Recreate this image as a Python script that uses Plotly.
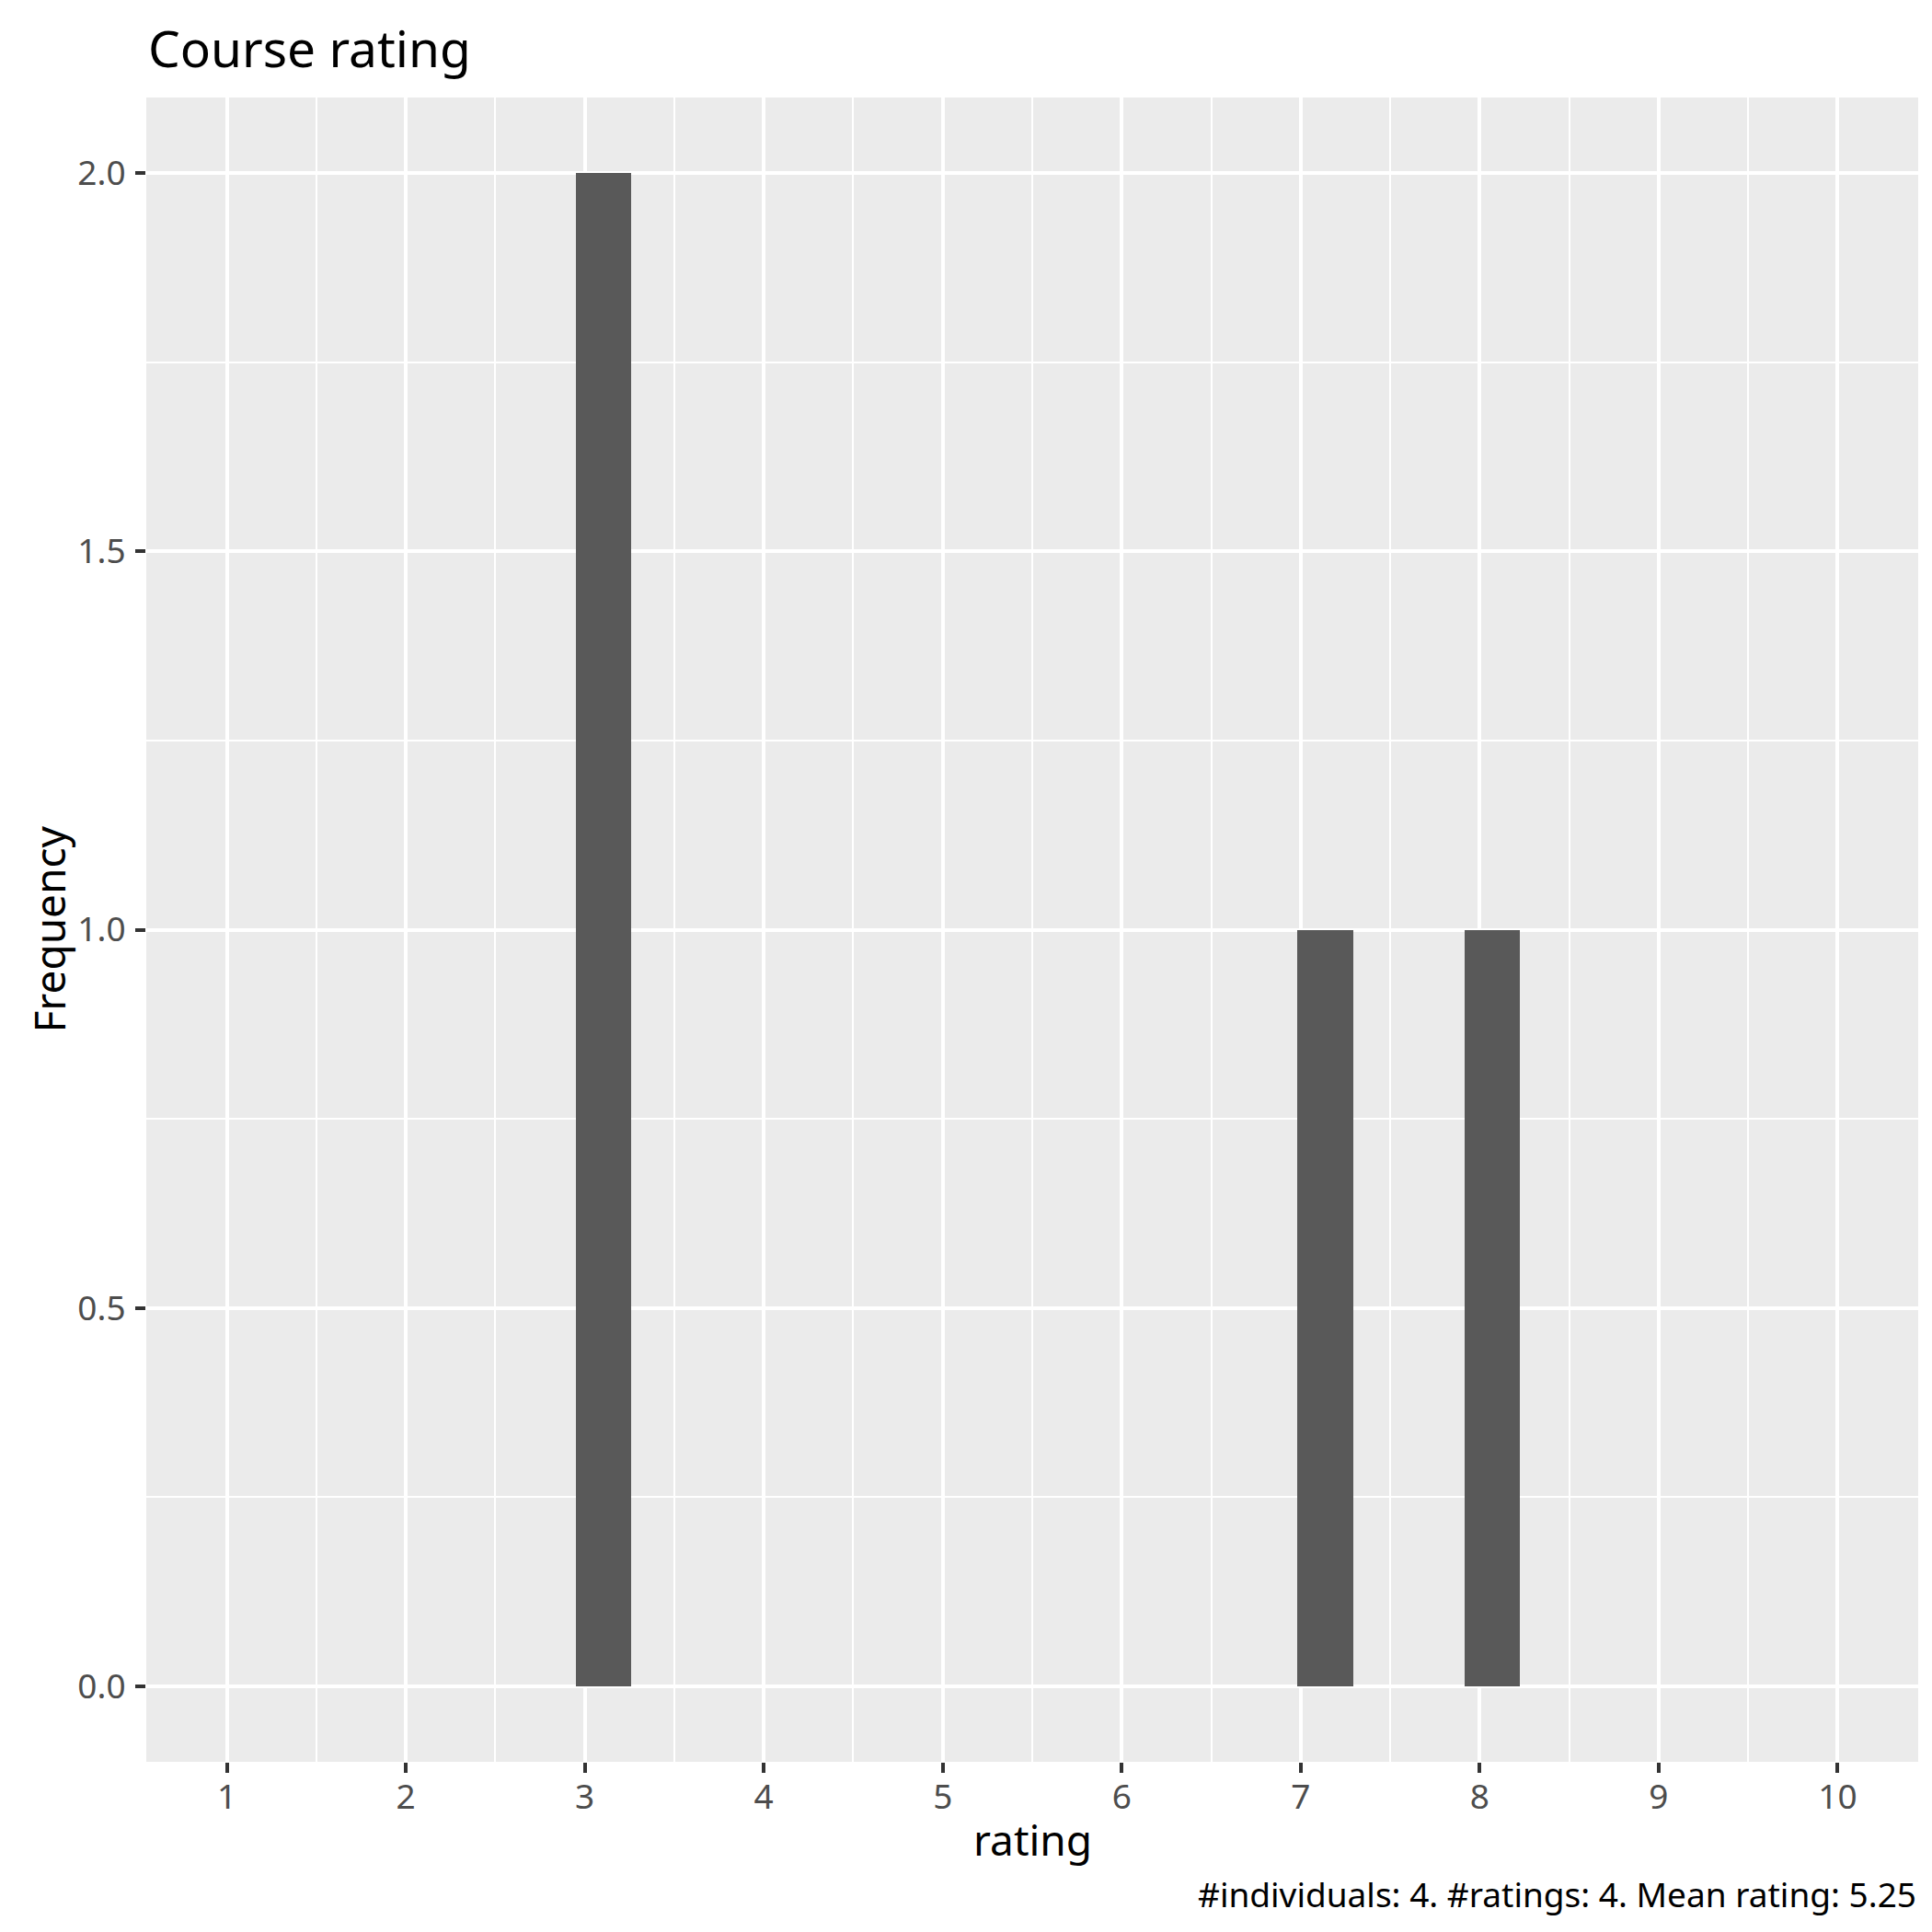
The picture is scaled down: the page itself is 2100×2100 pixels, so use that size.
import numpy as np
import plotly.graph_objects as go

# Data
ratings = [3, 3, 7, 8]
x_ticks = [1, 2, 3, 4, 5, 6, 7, 8, 9, 10]
y_ticks = [0.0, 0.5, 1.0, 1.5, 2.0]
y_tick_labels = ["0.0", "0.5", "1.0", "1.5", "2.0"]
title_text = "Course rating"
x_title = "rating"
y_title = "Frequency"
caption_text = "#individuals: 4. #ratings: 4. Mean rating: 5.25"

# ggplot2-style binning: 30 bins over range 1..10
n_bins = 30
lo, hi = 1, 10
binwidth = (hi - lo) / (n_bins - 1)
boundary = binwidth / 2
origin = boundary + np.floor((lo - boundary) / binwidth) * binwidth

W = H = 2100
L, R, T, B = 151, 23, 98, 193
pw = W - L - R
ph = H - T - B

FONT = "Noto Sans"

fig = go.Figure()
fig.add_trace(go.Histogram(
    x=ratings,
    xbins=dict(start=origin, end=origin + n_bins * binwidth, size=binwidth),
    marker=dict(color="#595959", line=dict(width=0)),
    hoverinfo="skip",
))

grid_major = 4.4
grid_minor = 2.2

fig.update_layout(
    width=W, height=H,
    margin=dict(l=L, r=R, t=T, b=B, autoexpand=False),
    paper_bgcolor="white",
    plot_bgcolor="#EBEBEB",
    bargap=0,
    showlegend=False,
    font=dict(family=FONT, color="black"),
    xaxis=dict(
        range=[0.55, 10.45],
        tickmode="array", tickvals=x_ticks, ticktext=[str(v) for v in x_ticks],
        ticks="outside", ticklen=11, tickwidth=4, tickcolor="#333333",
        ticklabelstandoff=-5,
        tickfont=dict(size=37, color="#4D4D4D", family=FONT),
        showgrid=True, gridcolor="white", gridwidth=grid_major,
        minor=dict(tickmode="array", tickvals=[1.5 + i for i in range(9)],
                   showgrid=True, gridcolor="white", gridwidth=grid_minor, ticks=""),
        zeroline=False, showline=False,
    ),
    yaxis=dict(
        range=[-0.1, 2.1],
        tickmode="array", tickvals=y_ticks, ticktext=y_tick_labels,
        ticks="outside", ticklen=11, tickwidth=4, tickcolor="#333333",
        ticklabelstandoff=3,
        tickfont=dict(size=37, color="#4D4D4D", family=FONT),
        showgrid=True, gridcolor="white", gridwidth=grid_major,
        minor=dict(tickmode="array", tickvals=[0.25, 0.75, 1.25, 1.75],
                   showgrid=True, gridcolor="white", gridwidth=grid_minor, ticks=""),
        zeroline=False, showline=False,
    ),
    annotations=[
        dict(text=title_text, xref="paper", yref="paper", x=0, y=1 + (T - 44) / ph,
             xanchor="left", yanchor="middle", showarrow=False,
             font=dict(size=55, color="black", family=FONT)),
        dict(text=x_title, xref="paper", yref="paper", x=0.5, y=-(1991 - (H - B)) / ph,
             xanchor="center", yanchor="middle", showarrow=False,
             font=dict(size=46, color="black", family=FONT)),
        dict(text=y_title, xref="paper", yref="paper", x=-(L - 44) / pw, y=0.5,
             xanchor="center", yanchor="middle", showarrow=False, textangle=-90,
             font=dict(size=46, color="black", family=FONT)),
        dict(text=caption_text, xref="paper", yref="paper", x=1, y=-(2050 - (H - B)) / ph,
             xanchor="right", yanchor="middle", showarrow=False,
             font=dict(size=37, color="black", family=FONT)),
    ],
)

fig.write_html("out.html")
